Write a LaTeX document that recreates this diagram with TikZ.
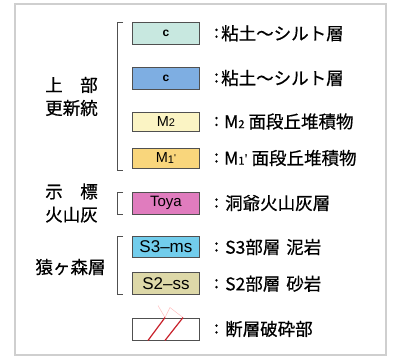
\documentclass[tikz,border=0pt]{standalone}
\usepackage{fontspec}
\newfontfamily\jp[FakeBold=0.6]{Noto Sans CJK JP}
\newfontfamily\ar{Liberation Sans}
\definecolor{cA}{HTML}{C8E8E0}
\definecolor{cB}{HTML}{7EAEE2}
\definecolor{cC}{HTML}{FBF4C4}
\definecolor{cD}{HTML}{F9D67C}
\definecolor{cE}{HTML}{E07CBE}
\definecolor{cF}{HTML}{72CDEC}
\definecolor{cG}{HTML}{DDD8A8}
\definecolor{bord}{HTML}{505050}
\definecolor{frm}{HTML}{CFCFCF}
\definecolor{flt}{HTML}{C8202A}
\begin{document}
\begin{tikzpicture}[x=1pt,y=-1pt,
  legbox/.style={draw=bord,line width=0.9pt,minimum width=67pt,minimum height=22pt,inner sep=0pt,anchor=west},
  desc/.style={font=\jp\fontsize{17.5}{19}\selectfont,anchor=west,inner sep=0pt},
  colon/.style={font=\jp\fontsize{17}{18}\selectfont,inner sep=0pt},
  grp/.style={font=\jp\fontsize{17.5}{23}\selectfont,align=center,inner sep=0pt},
  brk/.style={draw=bord,line width=0.8pt}]
\useasboundingbox (0,0) rectangle (394,358);
\draw[frm,line width=1.3pt] (15,4) rectangle (386,355);
% boxes
\node[legbox,fill=cA] (b1) at (132,33.3) {\ar\bfseries\fontsize{12}{13}\selectfont c};
\node[legbox,fill=cB] (b2) at (132,78) {\ar\bfseries\fontsize{12}{13}\selectfont c};
\node[legbox,fill=cC,minimum height=19pt] (b3) at (132,121.5) {\ar\fontsize{14.5}{15}\selectfont M\raisebox{-0.3pt}{\fontsize{11}{11}\selectfont 2}};
\node[legbox,fill=cD,minimum height=20pt] (b4) at (132,158) {\ar\fontsize{14.5}{15}\selectfont M\raisebox{-0.3pt}{\fontsize{11}{11}\selectfont 1}\raisebox{1pt}{\fontsize{10}{11}\selectfont '}};
\node[legbox,fill=cE] (b5) at (132,203) {\ar\fontsize{15}{16}\selectfont Toya};
\node[legbox,fill=cF,minimum height=21pt] (b6) at (132,247) {\ar\fontsize{17}{18}\selectfont S3\raisebox{0.5pt}{–}ms};
\node[legbox,fill=cG,minimum height=22.5pt] (b7) at (132,283.7) {\ar\fontsize{17}{18}\selectfont S2\raisebox{0.5pt}{–}ss};
\node[legbox,fill=white] (b8) at (132,329) {};
% fault lines
\draw[red!25,line width=0.5pt] ([xshift=33pt]b8.north west) -- ([xshift=38pt,yshift=10pt]b8.north west) -- ([xshift=51pt]b8.north west);
\draw[red!25,line width=0.5pt] ([xshift=33pt]b8.north west) -- ([xshift=26pt,yshift=12pt]b8.north west);
\draw[flt,line width=1.2pt] ([xshift=16pt]b8.south west) -- ([xshift=33pt]b8.north west);
\draw[flt,line width=1.2pt] ([xshift=33pt]b8.south west) -- ([xshift=51pt]b8.north west);
% colons and descriptions
\foreach \n/\y/\t/\dx in {1/33.3/粘土～シルト層/221, 2/78/粘土～シルト層/221, 3/121.5/M{\fontsize{11}{11}\selectfont 2}\hspace{4pt}面段丘堆積物/224, 4/158/M{\fontsize{11}{11}\selectfont 1}\raisebox{2pt}{\fontsize{11}{11}\selectfont '}\hspace{4pt}面段丘堆積物/224, 5/203/洞爺火山灰層/225, 6/247/S3部層\hspace{6pt}泥岩/225, 7/283.7/S2部層\hspace{6pt}砂岩/225, 8/329/断層破砕部/225}{
  \node[colon] (c\n) at (216.5,\y) {:};
  \node[desc] (d\n) at (\dx,\y) {\t};
}
% brackets
\coordinate (k1t) at (123,22);
\coordinate (k1b) at (123,170);
\draw[brk] (k1t) -- (117,22) -- (117,170) -- (k1b);
\coordinate (k2t) at (123,192.7);
\coordinate (k2b) at (123,214.3);
\draw[brk] (k2t) -- (117,192.7) -- (117,214.3) -- (k2b);
\coordinate (k3t) at (123,236.7);
\coordinate (k3b) at (123,294.3);
\draw[brk] (k3t) -- (117,236.7) -- (117,294.3) -- (k3b);
% group labels
\node[grp] (g1) at (71.5,96.5) {上\hspace{1em}部\\更新統};
\node[grp] (g2) at (71.5,203) {示\hspace{1em}標\\火山灰};
\node[grp] (g3) at (70.5,267) {猿ヶ森層};
\end{tikzpicture}
\end{document}
